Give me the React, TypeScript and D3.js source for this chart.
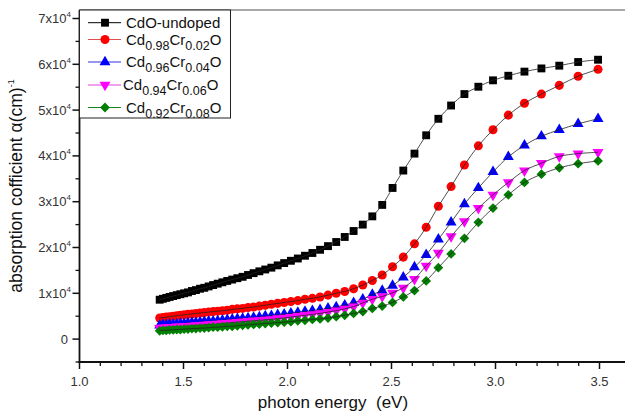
import React from "react";
import * as d3 from "d3";

const energy = [
  1.3855, 1.4011, 1.4171, 1.4335, 1.4503, 1.4675, 1.485, 1.503, 1.5215, 1.5404,
  1.5597, 1.5796, 1.6, 1.6209, 1.6424, 1.6644, 1.6871, 1.7103, 1.7343, 1.7589,
  1.7842, 1.8102, 1.837, 1.8647, 1.8931, 1.9225, 1.9528, 1.984, 2.0163, 2.0496,
  2.084, 2.1197, 2.1565, 2.1947, 2.2342, 2.2752, 2.3178, 2.3619, 2.4078, 2.4554,
  2.5051, 2.5567, 2.6105, 2.6667, 2.7253, 2.7865, 2.8506, 2.9176, 2.988, 3.0617,
  3.1392, 3.2208, 3.3067, 3.3973, 3.493,
];

// absorption coefficient in units of 1e4 cm^-1
const undoped = [
  0.86, 0.88, 0.9, 0.92, 0.94, 0.96, 0.98, 1.0, 1.02, 1.05,
  1.07, 1.1, 1.12, 1.15, 1.18, 1.21, 1.24, 1.27, 1.3, 1.33,
  1.36, 1.4, 1.44, 1.48, 1.52, 1.56, 1.61, 1.66, 1.71, 1.76,
  1.82, 1.88, 1.95, 2.03, 2.12, 2.23, 2.36, 2.5, 2.68, 2.93,
  3.3, 3.68, 4.05, 4.45, 4.81, 5.1, 5.35, 5.51, 5.65, 5.75,
  5.84, 5.91, 5.97, 6.05, 6.1,
];
const cr002 = [
  0.46, 0.47, 0.48, 0.49, 0.5, 0.51, 0.52, 0.53, 0.54, 0.55,
  0.56, 0.57, 0.58, 0.59, 0.6, 0.61, 0.62, 0.63, 0.65, 0.66,
  0.67, 0.69, 0.7, 0.72, 0.74, 0.76, 0.78, 0.8, 0.82, 0.84,
  0.87, 0.89, 0.92, 0.96, 1.0, 1.04, 1.1, 1.18, 1.28, 1.4,
  1.58, 1.79, 2.08, 2.44, 2.9, 3.33, 3.8, 4.22, 4.57, 4.89,
  5.15, 5.35, 5.54, 5.74, 5.89,
];
const cr004 = [
  0.3, 0.31, 0.31, 0.32, 0.32, 0.33, 0.34, 0.34, 0.35, 0.36,
  0.36, 0.37, 0.38, 0.39, 0.39, 0.4, 0.41, 0.42, 0.43, 0.44,
  0.45, 0.46, 0.47, 0.48, 0.5, 0.51, 0.53, 0.54, 0.56, 0.58,
  0.6, 0.62, 0.64, 0.67, 0.7, 0.74, 0.79, 0.87, 0.97, 1.06,
  1.17, 1.35, 1.57, 1.84, 2.18, 2.55, 2.95, 3.3, 3.65, 3.98,
  4.23, 4.43, 4.57, 4.7, 4.81,
];
const cr006 = [
  0.24, 0.25, 0.25, 0.26, 0.26, 0.27, 0.27, 0.28, 0.28, 0.29,
  0.3, 0.3, 0.31, 0.32, 0.32, 0.33, 0.34, 0.35, 0.36, 0.37,
  0.38, 0.39, 0.4, 0.41, 0.42, 0.43, 0.45, 0.46, 0.48, 0.5,
  0.52, 0.54, 0.56, 0.59, 0.62, 0.66, 0.71, 0.79, 0.87, 0.93,
  1.01, 1.12, 1.31, 1.6, 1.88, 2.24, 2.57, 2.86, 3.15, 3.42,
  3.68, 3.84, 3.99, 4.05, 4.08,
];
const cr008 = [
  0.18, 0.19, 0.19, 0.2, 0.2, 0.21, 0.21, 0.22, 0.22, 0.23,
  0.23, 0.24, 0.24, 0.25, 0.26, 0.26, 0.27, 0.28, 0.28, 0.29,
  0.3, 0.31, 0.32, 0.33, 0.34, 0.35, 0.36, 0.37, 0.38, 0.4,
  0.41, 0.43, 0.44, 0.46, 0.49, 0.52, 0.56, 0.6, 0.67, 0.72,
  0.8, 0.92, 1.06, 1.27, 1.56, 1.86, 2.2, 2.55, 2.86, 3.15,
  3.42, 3.6, 3.74, 3.83, 3.89,
];

const seriesValues = [undoped, cr002, cr004, cr006, cr008];
const seriesColors = ["#000000", "#ff0000", "#0000ff", "#ff00ff", "#007f00"];
const legendLineColors = ["#000000", "#e05050", "#3030e0", "#e040e0", "#208020"];
// legend labels: [main, sub, main, sub, main]
const legendLabels: string[][] = [
  ["CdO-undoped"],
  ["Cd", "0.98", "Cr", "0.02", "O"],
  ["Cd", "0.96", "Cr", "0.04", "O"],
  ["Cd", "0.94", "Cr", "0.06", "O"],
  ["Cd", "0.92", "Cr", "0.08", "O"],
];
const xTicks = [1.0, 1.5, 2.0, 2.5, 3.0, 3.5];
const yTicks = [0, 1, 2, 3, 4, 5, 6, 7];

const W = 625;
const H = 413;
const x = d3.scaleLinear().domain([1.0, 3.5]).range([79.5, 599.5]);
const y = d3.scaleLinear().domain([-0.5, 7]).range([362, 18.5]);

const symbolPath = (i: number) => {
  const gen = [
    d3.symbol(d3.symbolSquare, 62),
    d3.symbol(d3.symbolCircle, 64),
    d3.symbol(d3.symbolTriangle, 52),
    d3.symbol(d3.symbolTriangle, 52),
    d3.symbol(d3.symbolSquare, 48),
  ][i];
  return gen() as string;
};
const symbolRotate = [0, 0, 0, 180, 45];

export default function App() {
  const line = d3
    .line<[number, number]>()
    .x((d) => x(d[0]))
    .y((d) => y(d[1]))
    .curve(d3.curveCatmullRom);

  const xMinor = d3.range(11, 36).map((v) => v / 10).filter((v) => Math.abs(v * 2 - Math.round(v * 2)) > 1e-6);
  const yMinor = d3.range(0, 8).map((v) => v - 0.5);

  const legendY = [22.7, 39.5, 62, 85, 107.5];
  const font = "Liberation Sans, Arial, sans-serif";

  return (
    <svg width={W} height={H} style={{ position: "absolute", left: 0, top: 0, background: "#fff" }} fontFamily={font}>
      {/* top frame */}
      <line x1={79.5} x2={W} y1={10} y2={10} stroke="#555" strokeWidth={1.2} />
      {/* series */}
      {seriesValues.map((vals, si) => {
        const pts: [number, number][] = energy.map((e, k) => [e, vals[k]]);
        const p = symbolPath(si);
        return (
          <g key={si}>
            {pts.map((d, k) => (
              <path
                key={k}
                d={p}
                fill={seriesColors[si]}
                transform={`translate(${x(d[0])},${y(d[1])}) rotate(${symbolRotate[si]})`}
              />
            ))}
            <path d={line(pts) as string} fill="none" stroke="#222" strokeWidth={0.8} />
          </g>
        );
      })}
      {/* axes */}
      <line x1={79.5} x2={79.5} y1={10} y2={363} stroke="#111" strokeWidth={1.8} />
      <line x1={78.5} x2={W} y1={362} y2={362} stroke="#111" strokeWidth={1.8} />
      {xTicks.map((t) => (
        <g key={t}>
          <line x1={x(t)} x2={x(t)} y1={362} y2={369} stroke="#111" strokeWidth={1.5} />
          <text x={x(t)} y={385.5} textAnchor="middle" fontSize={13} fill="#333">
            {t.toFixed(1)}
          </text>
        </g>
      ))}
      {xMinor.map((t) => (
        <line key={t} x1={x(t)} x2={x(t)} y1={362} y2={366} stroke="#111" strokeWidth={1.3} />
      ))}
      {yTicks.map((t) => (
        <g key={t}>
          <line x1={72.5} x2={79.5} y1={y(t)} y2={y(t)} stroke="#111" strokeWidth={1.5} />
          {t === 0 ? (
            <text x={68} y={y(t) + 4.5} textAnchor="end" fontSize={13} fill="#333">0</text>
          ) : (
            <text x={71} y={y(t) + 4.5} textAnchor="end" fontSize={13} fill="#333">
              {`${t}x10`}
              <tspan fontSize={8} dy={-6}>4</tspan>
            </text>
          )}
        </g>
      ))}
      {yMinor.map((t) => (
        <line key={t} x1={75.5} x2={79.5} y1={y(t)} y2={y(t)} stroke="#111" strokeWidth={1.3} />
      ))}
      {/* axis titles */}
      <text x={333} y={408} textAnchor="middle" fontSize={17} fill="#111" style={{ whiteSpace: "pre" }}>
        {"photon energy\u00a0\u00a0(eV)"}
      </text>
      <text transform="translate(22,186) rotate(-90)" textAnchor="middle" fontSize={17.5} fill="#111">
        absorption cofficient α(cm)
        <tspan fontSize={9} dy={-8}>-1</tspan>
      </text>
      {/* legend */}
      <rect x={79.5} y={10} width={151} height={108} fill="#fff" stroke="#222" strokeWidth={1} />
      {legendLabels.map((parts, i) => {
        const ly = legendY[i];
        return (
          <g key={i}>
            <line x1={88} x2={121} y1={ly} y2={ly} stroke={legendLineColors[i]} strokeWidth={1} />
            <path
              d={symbolPath(i)}
              fill={seriesColors[i]}
              transform={`translate(105,${ly}) rotate(${symbolRotate[i]})`}
            />
            <text x={i === 3 ? 123 : 126} y={ly + 5} fontSize={15} fill="#111">
              {parts.map((s, k) =>
                k % 2 === 1 ? (
                  <tspan key={k} fontSize={12.5} dy={5}>{s}</tspan>
                ) : (
                  <tspan key={k} dy={k === 0 ? 0 : -5}>{s}</tspan>
                )
              )}
            </text>
          </g>
        );
      })}
    </svg>
  );
}
